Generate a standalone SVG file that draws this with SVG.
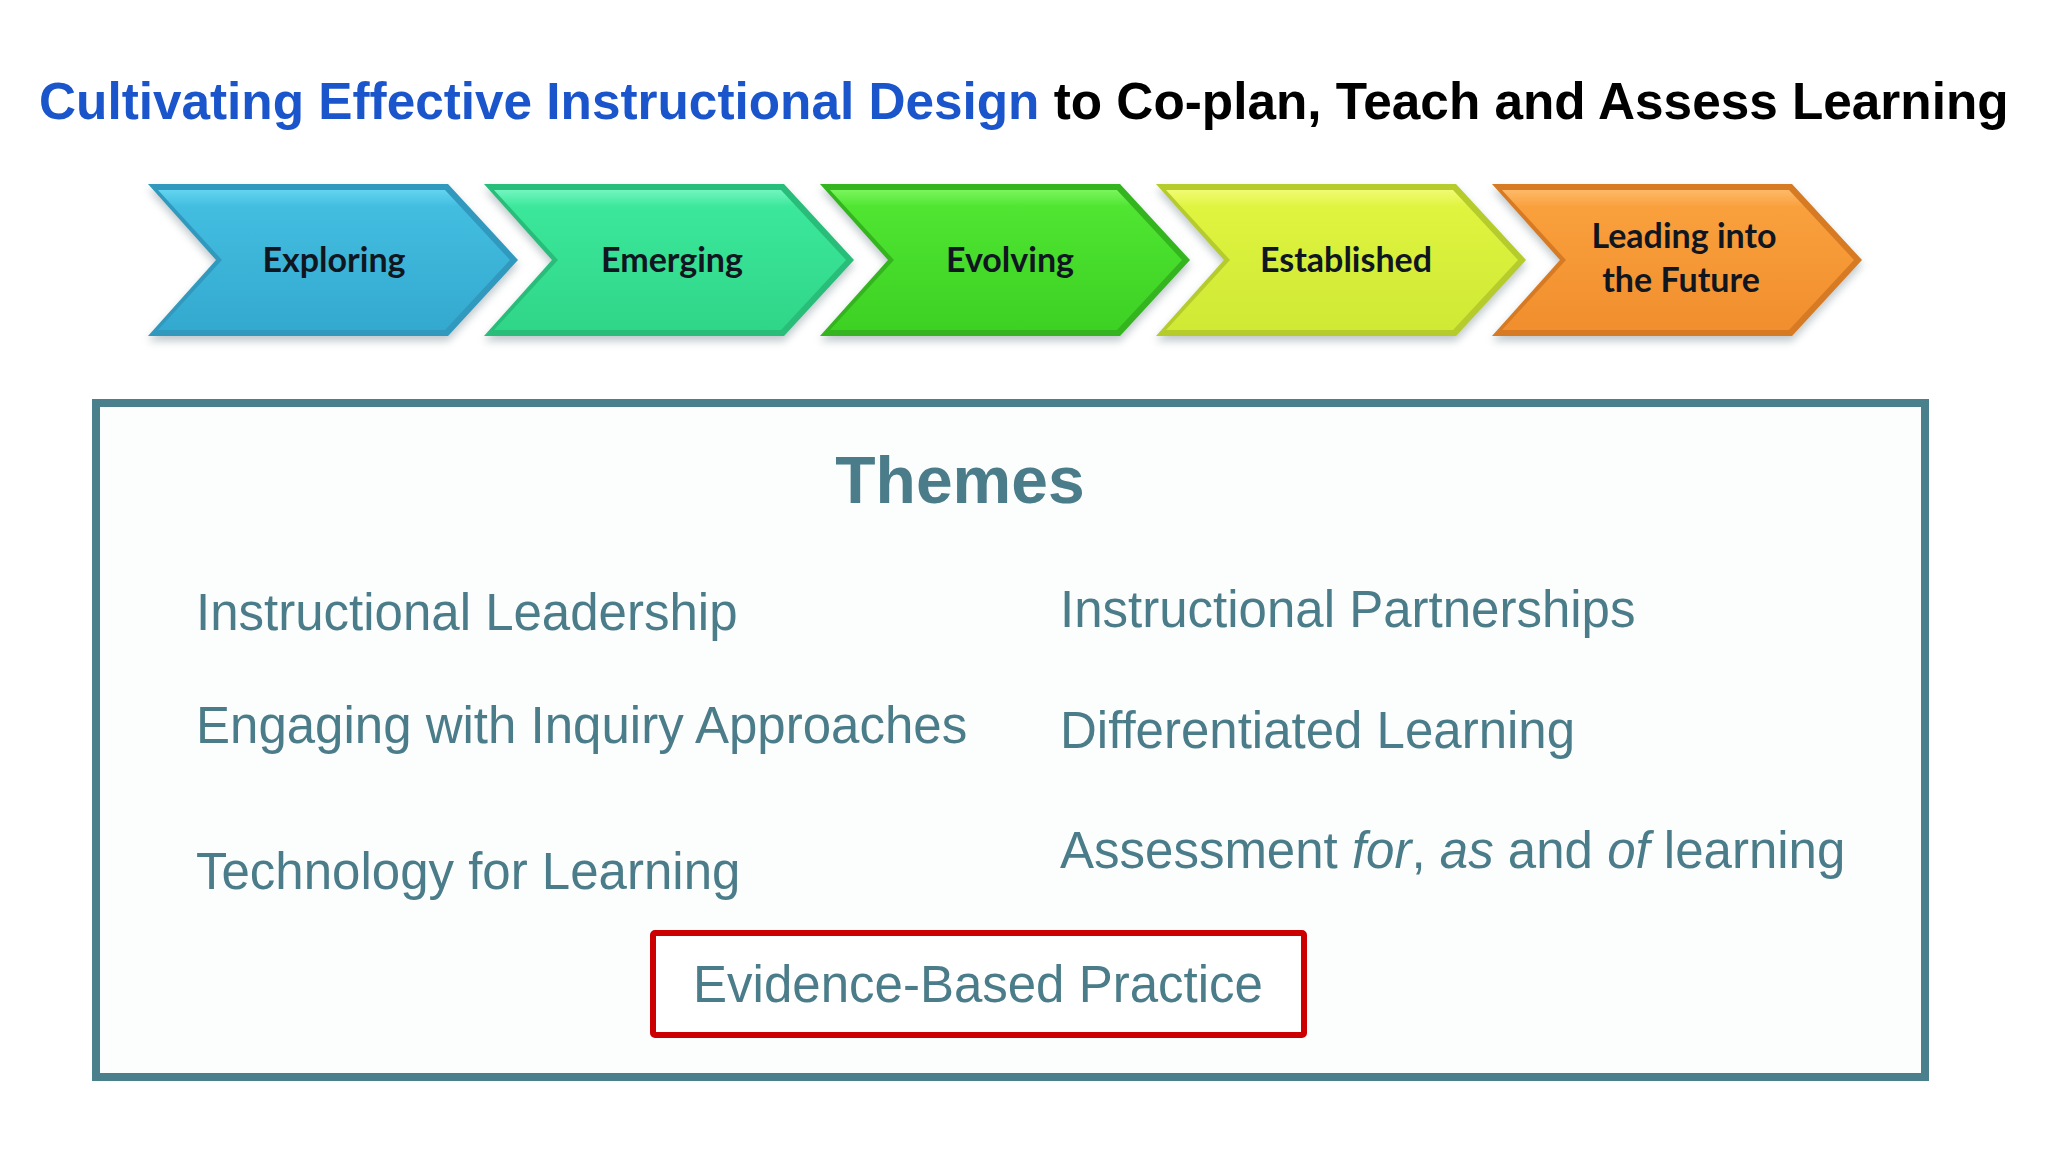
<svg xmlns="http://www.w3.org/2000/svg" width="2048" height="1152" viewBox="0 0 2048 1152">
<defs>
<style>
.title{font-family:"Liberation Sans",Arial,sans-serif;font-weight:bold;font-size:51.3px}
.chev{font-family:Lato,"Open Sans",sans-serif;font-weight:bold;font-size:34px;fill:#10161f;text-anchor:middle}
.theme{font-family:"Liberation Sans",Arial,sans-serif;font-size:51px;fill:#4a7c89}
.head{font-family:"Liberation Sans",Arial,sans-serif;font-weight:bold;font-size:66px;fill:#4a7c89;text-anchor:middle}
</style>
<filter id="sh" x="-10%" y="-10%" width="120%" height="130%"><feGaussianBlur stdDeviation="4"/></filter>
<polygon id="chv" points="0,0 300,0 370,76 300,152 0,152 68,76"/>
<polygon id="chi" points="10,6 297,6 362,76 297,146 10,146 74,76"/>
<linearGradient id="g1" x1="0" y1="0" x2="0" y2="1"><stop offset="0" stop-color="#62d4ef"/><stop offset="0.12" stop-color="#42bde0"/><stop offset="1" stop-color="#34a9cf"/></linearGradient>
<linearGradient id="g2" x1="0" y1="0" x2="0" y2="1"><stop offset="0" stop-color="#72f5bf"/><stop offset="0.12" stop-color="#3be79b"/><stop offset="1" stop-color="#30d688"/></linearGradient>
<linearGradient id="g3" x1="0" y1="0" x2="0" y2="1"><stop offset="0" stop-color="#7af55c"/><stop offset="0.12" stop-color="#4fe531"/><stop offset="1" stop-color="#3dd124"/></linearGradient>
<linearGradient id="g4" x1="0" y1="0" x2="0" y2="1"><stop offset="0" stop-color="#f1fb72"/><stop offset="0.12" stop-color="#dff43f"/><stop offset="1" stop-color="#cfe935"/></linearGradient>
<linearGradient id="g5" x1="0" y1="0" x2="0" y2="1"><stop offset="0" stop-color="#fdb968"/><stop offset="0.12" stop-color="#f9a03d"/><stop offset="1" stop-color="#f18e2d"/></linearGradient>
</defs>
<rect width="2048" height="1152" fill="#ffffff"/>

<g id="title">
<text class="title" x="39" y="119"><tspan fill="#1a55cc">Cultivating Effective Instructional Design</tspan><tspan fill="#000000"> to Co-plan, Teach and Assess Learning</tspan></text>
</g>

<g id="chevron-exploring" transform="translate(148,184)">
<use href="#chv" fill="#8a9aa0" opacity="0.55" filter="url(#sh)" transform="translate(0,5)"/>
<use href="#chv" fill="#3199bd"/>
<use href="#chi" fill="url(#g1)"/>
<text class="chev" x="186" y="88">Exploring</text>
</g>
<g id="chevron-emerging" transform="translate(484,184)">
<use href="#chv" fill="#8a9aa0" opacity="0.55" filter="url(#sh)" transform="translate(0,5)"/>
<use href="#chv" fill="#28bd79"/>
<use href="#chi" fill="url(#g2)"/>
<text class="chev" x="188" y="88">Emerging</text>
</g>
<g id="chevron-evolving" transform="translate(820,184)">
<use href="#chv" fill="#8a9aa0" opacity="0.55" filter="url(#sh)" transform="translate(0,5)"/>
<use href="#chv" fill="#34b41e"/>
<use href="#chi" fill="url(#g3)"/>
<text class="chev" x="190" y="88">Evolving</text>
</g>
<g id="chevron-established" transform="translate(1156,184)">
<use href="#chv" fill="#8a9aa0" opacity="0.55" filter="url(#sh)" transform="translate(0,5)"/>
<use href="#chv" fill="#b5cc2c"/>
<use href="#chi" fill="url(#g4)"/>
<text class="chev" x="190" y="88">Established</text>
</g>
<g id="chevron-leading" transform="translate(1492,184)">
<use href="#chv" fill="#8a9aa0" opacity="0.55" filter="url(#sh)" transform="translate(0,5)"/>
<use href="#chv" fill="#d77a24"/>
<use href="#chi" fill="url(#g5)"/>
<text class="chev" x="192" y="64">Leading into</text>
<text class="chev" x="189" y="108">the Future</text>
</g>

<g id="themes-box">
<rect x="96" y="403" width="1829" height="674" fill="#fcfdfd" stroke="#4a7f8c" stroke-width="8"/>
<text class="head" x="960" y="503">Themes</text>
</g>

<g id="theme-instructional-leadership"><text class="theme" x="196" y="630">Instructional Leadership</text></g>
<g id="theme-engaging"><text class="theme" x="196" y="743">Engaging with Inquiry Approaches</text></g>
<g id="theme-technology"><text class="theme" x="196" y="889">Technology for Learning</text></g>
<g id="theme-partnerships"><text class="theme" x="1060" y="627">Instructional Partnerships</text></g>
<g id="theme-differentiated"><text class="theme" x="1060" y="748">Differentiated Learning</text></g>
<g id="theme-assessment"><text class="theme" x="1060" y="868">Assessment <tspan font-style="italic">for</tspan>, <tspan font-style="italic">as</tspan> and <tspan font-style="italic">of</tspan> learning</text></g>

<g id="evidence-based-practice">
<rect x="653" y="933" width="651" height="102" fill="#ffffff" stroke="#cc0000" stroke-width="6" rx="2"/>
<text class="theme" x="978" y="1002" text-anchor="middle">Evidence-Based Practice</text>
</g>

<g id="connectors"></g>
</svg>
